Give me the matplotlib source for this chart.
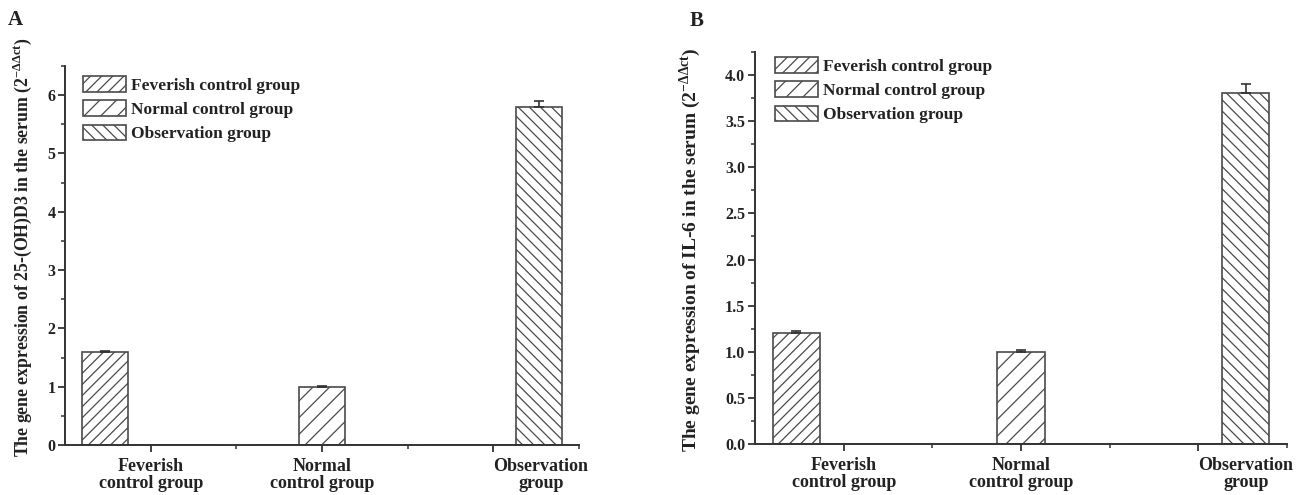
import matplotlib

matplotlib.use("Agg")
import matplotlib.pyplot as plt
import numpy as np
from matplotlib.ticker import MultipleLocator

# data
GROUPS = ["Feverish\ncontrol group", "Normal\ncontrol group", "Observation\ngroup"]
SERIES = ["Feverish control group", "Normal control group", "Observation group"]
HATCHES = ["///", "//", "\\\\\\"]

VITD_MEAN = [1.60, 1.00, 5.80]
VITD_ERR = [0.02, 0.01, 0.10]
IL6_MEAN = [1.20, 1.00, 3.80]
IL6_ERR = [0.03, 0.02, 0.10]

TEXT = "#222222"
EDGE = "#4a4a4a"

plt.rcParams["font.family"] = ["Liberation Serif", "DejaVu Serif"]
plt.rcParams["font.weight"] = "bold"
plt.rcParams["axes.labelweight"] = "bold"
plt.rcParams["mathtext.fontset"] = "custom"
plt.rcParams["mathtext.rm"] = "Liberation Serif"
plt.rcParams["mathtext.bf"] = "Liberation Serif:bold"
plt.rcParams["hatch.linewidth"] = 0.9


def draw_panel(ax, means, errs, ylim, major, minor, fmt, ylabel, label_xy, label_size):
    x = np.arange(1, len(GROUPS) + 1)
    width = 0.267
    for i, name in enumerate(SERIES):
        heights = [m if j == i else 0 for j, m in enumerate(means)]
        xs = x + (i - 1) * width
        ax.bar(xs, heights, width=width, facecolor="white", edgecolor=EDGE,
               hatch=HATCHES[i], linewidth=1.2, label=name)
        ax.errorbar(xs[i], means[i], yerr=[[0], [errs[i]]], fmt="none",
                    ecolor="#333333", elinewidth=1.2, capsize=3.5, capthick=1.2)

    ax.set_xlim(0.5, 3.5)
    ax.set_ylim(*ylim)
    ax.set_xticks(x)
    ax.set_xticks([1.5, 2.5, 3.5], minor=True)
    labels = ax.set_xticklabels(GROUPS, fontsize=13, color=TEXT, linespacing=1.05)
    labels[-1].set_horizontalalignment("left")
    labels[-1].set_multialignment("center")
    ax.yaxis.set_major_locator(MultipleLocator(major))
    ax.yaxis.set_minor_locator(MultipleLocator(minor))
    ax.yaxis.set_major_formatter(fmt)
    for lab in ax.get_yticklabels():
        lab.set_fontsize(11.5)
        lab.set_color(TEXT)

    for side in ("top", "right"):
        ax.spines[side].set_visible(False)
    for side in ("left", "bottom"):
        ax.spines[side].set_color("#333333")
        ax.spines[side].set_linewidth(1.4)
    ax.tick_params(which="major", length=5, width=1.3, color="#333333", pad=2)
    ax.tick_params(which="minor", length=3, width=1.1, color="#333333")
    ax.tick_params(axis="x", which="major", pad=4)

    ax.set_ylabel(ylabel, fontsize=label_size, color=TEXT)
    ax.yaxis.set_label_coords(*label_xy)


fig = plt.figure(figsize=(13.09, 4.95), dpi=100)
ax_a = fig.add_axes([0.0497, 0.101, 0.3926, 0.7657])
ax_b = fig.add_axes([0.5768, 0.103, 0.4064, 0.792])

draw_panel(ax_a, VITD_MEAN, VITD_ERR, (0, 6.5), 1, 0.5, "{x:.0f}",
           r"The gene expression of 25-(OH)D3 in the serum (2$^{\mathbf{-\Delta\Delta ct}}$)",
           (-0.060, 0.522), 12.8)
draw_panel(ax_b, IL6_MEAN, IL6_ERR, (0, 4.25), 0.5, 0.25, "{x:.1f}",
           r"The gene expression of IL-6 in the serum (2$^{\mathbf{-\Delta\Delta ct}}$)",
           (-0.097, 0.495), 14)

legend_kw = dict(frameon=False, fontsize=12.5, handlelength=2.5, handleheight=1.0,
                 handletextpad=0.25, labelspacing=0.38, borderpad=0, borderaxespad=0,
                 labelcolor=TEXT, loc="upper left")
ax_a.legend(bbox_to_anchor=(83 / 1309, 1 - 76 / 495), bbox_transform=fig.transFigure,
            **legend_kw)
ax_b.legend(bbox_to_anchor=(775 / 1309, 1 - 57 / 495), bbox_transform=fig.transFigure,
            **legend_kw)

fig.text(8 / 1309, 1 - 20 / 495, "A", fontsize=15, color=TEXT, va="center")
fig.text(690 / 1309, 1 - 21 / 495, "B", fontsize=15, color=TEXT, va="center")

fig.savefig("out.png", dpi=100)
